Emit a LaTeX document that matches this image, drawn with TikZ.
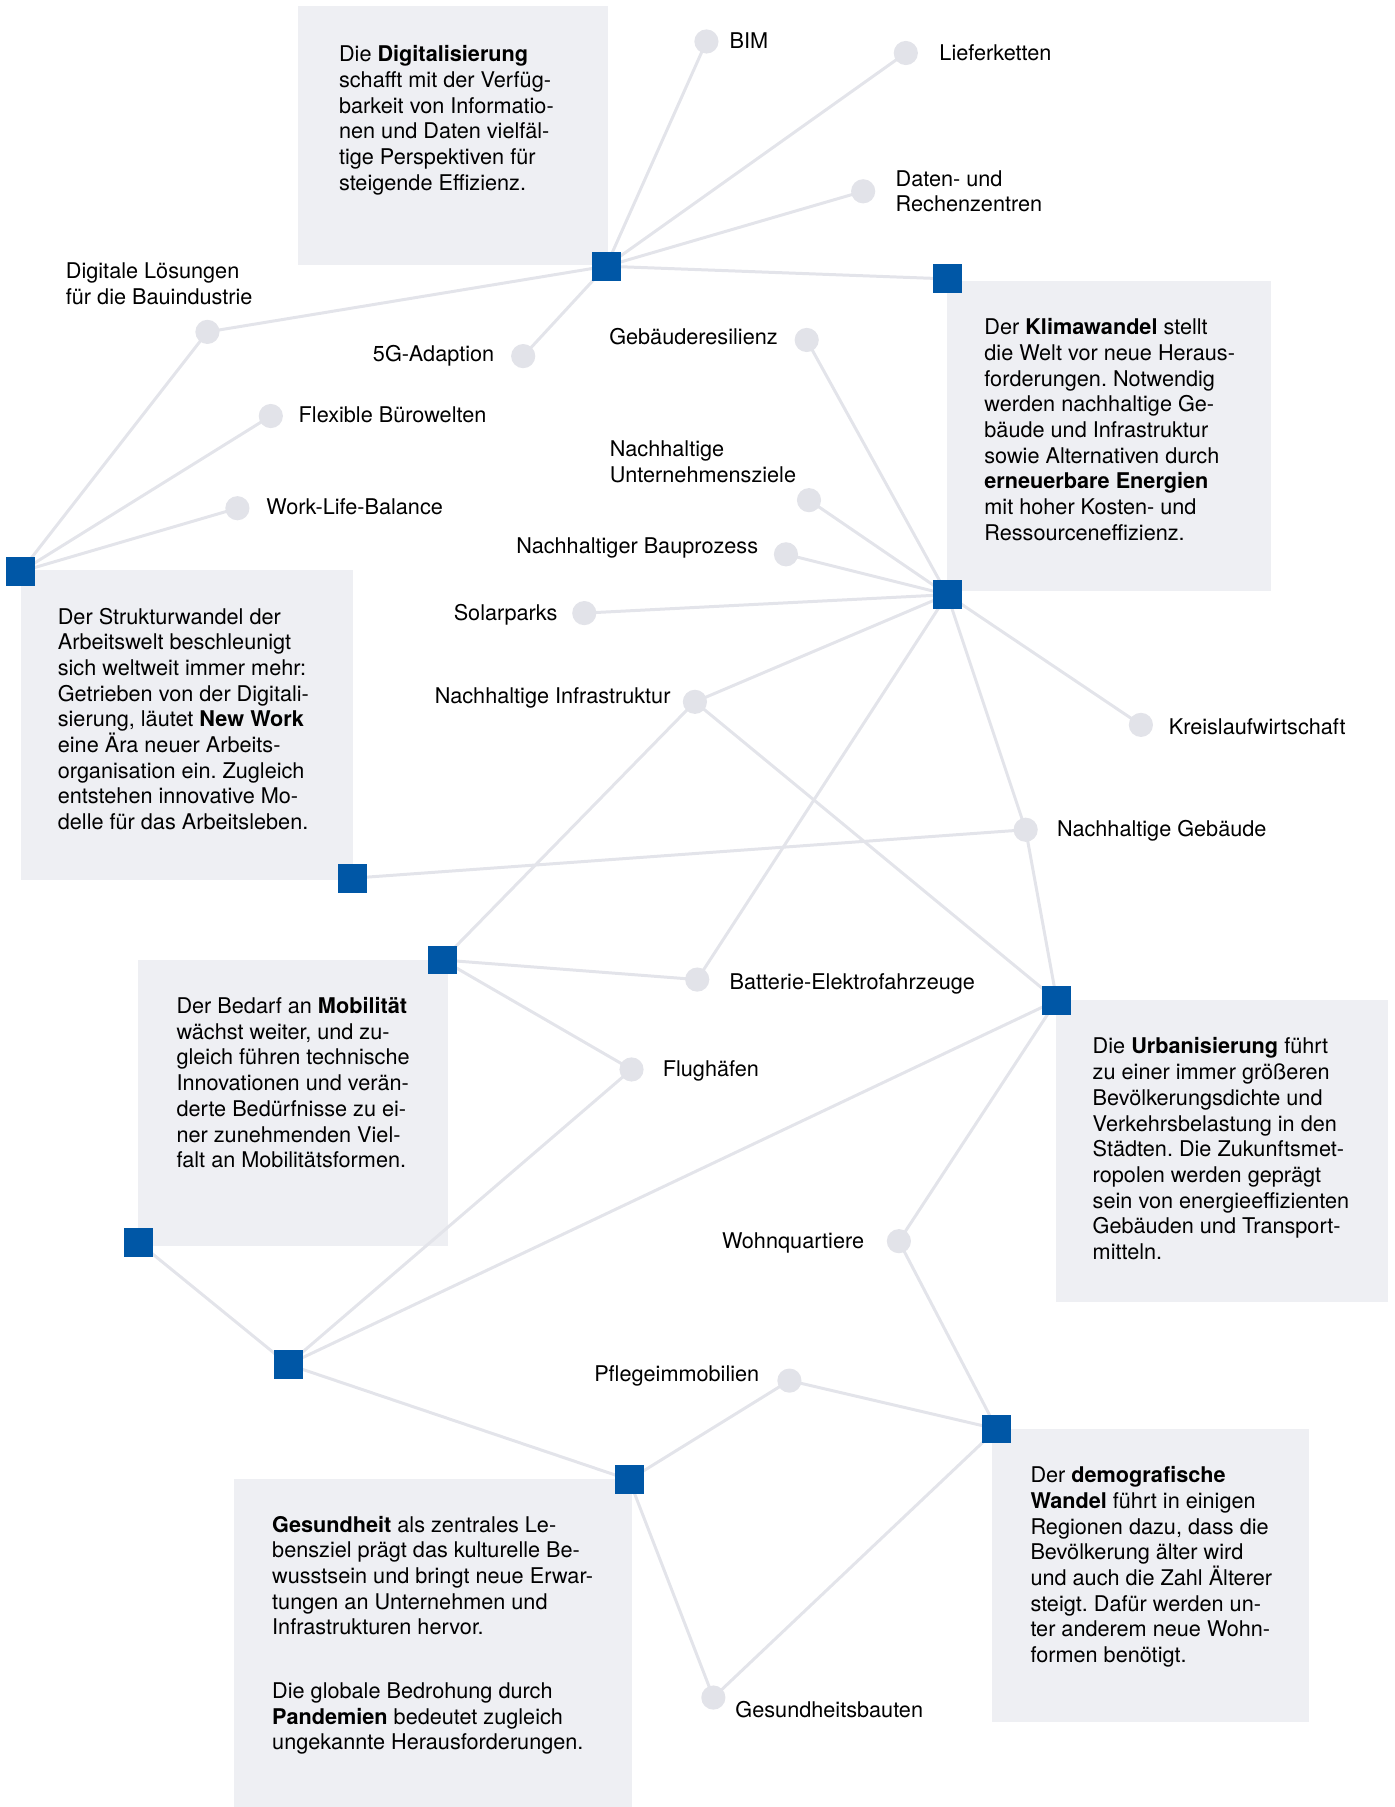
\documentclass[tikz,border=0pt]{standalone}
\usepackage{fontspec}
\setmainfont{TeX Gyre Heros}
\usetikzlibrary{backgrounds}
\frenchspacing

\definecolor{hubblue}{HTML}{0057A6}
\definecolor{boxgray}{HTML}{EEEFF3}
\definecolor{linegray}{HTML}{E3E4EA}
\definecolor{dotgray}{HTML}{E2E3E9}

\pgfdeclarelayer{boxes}
\pgfsetlayers{boxes,background,main}

\tikzset{
    hub/.style={rectangle, fill=hubblue, minimum size=25pt, inner sep=0pt},
    dot/.style={circle, fill=dotgray, minimum size=21pt, inner sep=0pt},
    link/.style={linegray, line width=2.6pt},
    % multi-line text: placed at the baseline of its last line
    txt/.style={anchor=base west, align=left, inner sep=0pt, font=\fontsize{18.8}{22.3}\selectfont},
    lbl/.style={inner sep=0pt, font=\fontsize{18.8}{22.3}\selectfont},
}

\begin{document}
\begin{tikzpicture}[x=1pt, y=-1pt]
    \useasboundingbox (0,0) rectangle (1210,1568);

    % text boxes
    \begin{pgfonlayer}{boxes}
        \fill[boxgray] (259,5) rectangle (528,230);
        \fill[boxgray] (822,244) rectangle (1103,513);
        \fill[boxgray] (18,495) rectangle (306,764);
        \fill[boxgray] (120,833) rectangle (389,1081);
        \fill[boxgray] (916,868) rectangle (1204,1130);
        \fill[boxgray] (203,1283) rectangle (548,1568);
        \fill[boxgray] (861,1240) rectangle (1136,1494);
    \end{pgfonlayer}

    % Digitalisierung
    \node[txt] (digtext) at (294,165) {Die \textbf{Digitalisierung}\\ schafft mit der Verfüg-\\ barkeit von Informatio-\\ nen und Daten vielfäl-\\ tige Perspektiven für\\ steigende Effizienz.};
    \node[hub] (dig) at (526,231) {};

    % Klimawandel
    \node[txt] (klimatext) at (854,468.9) {Der \textbf{Klimawandel} stellt\\ die Welt vor neue Heraus-\\ forderungen. Notwendig\\ werden nachhaltige Ge-\\ bäude und Infrastruktur\\ sowie Alternativen durch\\ \textbf{erneuerbare Energien}\\ mit hoher Kosten- und\\ Ressourceneffizienz.};
    \node[hub] (klimatop) at (822,242) {};
    \node[hub] (klima) at (822,516) {};

    % Strukturwandel
    \node[txt] (worktext) at (50,719.9) {Der Strukturwandel der\\ Arbeitswelt beschleunigt\\ sich weltweit immer mehr:\\ Getrieben von der Digitali-\\ sierung, läutet \textbf{New Work}\\ eine Ära neuer Arbeits-\\ organisation ein. Zugleich\\ entstehen innovative Mo-\\ delle für das Arbeitsleben.};
    \node[hub] (work) at (18,496) {};
    \node[hub] (workbot) at (306,762) {};

    % Mobilitaet
    \node[txt] (mobtext) at (153,1013.3) {Der Bedarf an \textbf{Mobilität}\\ wächst weiter, und zu-\\ gleich führen technische\\ Innovationen und verän-\\ derte Bedürfnisse zu ei-\\ ner zunehmenden Viel-\\ falt an Mobilitätsformen.};
    \node[hub] (mob) at (384,833) {};
    \node[hub] (mobbot) at (120,1078) {};
    \node[hub] (mobhub) at (250,1184) {};

    % Urbanisierung
    \node[txt] (urbtext) at (948,1092.9) {Die \textbf{Urbanisierung} führt\\ zu einer immer größeren\\ Bevölkerungsdichte und\\ Verkehrsbelastung in den\\ Städten. Die Zukunftsmet-\\ ropolen werden geprägt\\ sein von energieeffizienten\\ Gebäuden und Transport-\\ mitteln.};
    \node[hub] (urb) at (917,868) {};

    % Gesundheit
    \node[txt] (healthtext) at (236,1518.3) {\textbf{Gesundheit} als zentrales Le-\\ bensziel prägt das kulturelle Be-\\ wusstsein und bringt neue Erwar-\\ tungen an Unternehmen und\\ Infrastrukturen hervor.\\[32.7pt] Die globale Bedrohung durch\\ \textbf{Pandemien} bedeutet zugleich\\ ungekannte Herausforderungen.};
    \node[hub] (health) at (546,1284) {};

    % demografischer Wandel
    \node[txt] (demotext) at (894,1442.6) {Der \textbf{demografische}\\ \textbf{Wandel} führt in einigen\\ Regionen dazu, dass die\\ Bevölkerung älter wird\\ und auch die Zahl Älterer\\ steigt. Dafür werden un-\\ ter anderem neue Wohn-\\ formen benötigt.};
    \node[hub] (demo) at (865,1240) {};

    % topics
    \node[dot] (bim) at (613,36) {};
    \node[lbl, anchor=base west] (bimlbl) at (633,42.5) {BIM};
    \node[dot] (liefer) at (786,46) {};
    \node[lbl, anchor=base west] (lieferlbl) at (815,52.5) {Lieferketten};
    \node[dot] (daten) at (749,166) {};
    \node[txt] (datenlbl) at (777,183.8) {Daten- und\\ Rechenzentren};
    \node[dot] (loesung) at (180,288) {};
    \node[txt] (loesunglbl) at (57,263.8) {Digitale Lösungen\\ für die Bauindustrie};
    \node[dot] (fuenfg) at (454,309) {};
    \node[lbl, anchor=base east] (fuenfglbl) at (429,313.5) {5G-Adaption};
    \node[dot] (buero) at (235,361) {};
    \node[lbl, anchor=base west] (buerolbl) at (259,366.5) {Flexible Bürowelten};
    \node[dot] (balance) at (206,441) {};
    \node[lbl, anchor=base west] (balancelbl) at (231,446.5) {Work-Life-Balance};
    \node[dot] (resilienz) at (700,295) {};
    \node[lbl, anchor=base east] (resilienzlbl) at (675,298.5) {Gebäuderesilienz};
    \node[dot] (ziele) at (702,434) {};
    \node[txt] (zielelbl) at (529,418.8) {Nachhaltige\\ Unternehmensziele};
    \node[dot] (bauprozess) at (682,481) {};
    \node[lbl, anchor=base east] (bauprozesslbl) at (658,480.5) {Nachhaltiger Bauprozess};
    \node[dot] (solar) at (507,532) {};
    \node[lbl, anchor=base east] (solarlbl) at (484,538.5) {Solarparks};
    \node[dot] (infra) at (603,609) {};
    \node[lbl, anchor=base east] (infralbl) at (582,610.5) {Nachhaltige Infrastruktur};
    \node[dot] (kreislauf) at (990,629) {};
    \node[lbl, anchor=base west] (kreislauflbl) at (1014,637.5) {Kreislaufwirtschaft};
    \node[dot] (gebaeude) at (890,720) {};
    \node[lbl, anchor=base west] (gebaeudelbl) at (917,725.5) {Nachhaltige Gebäude};
    \node[dot] (batterie) at (605,850) {};
    \node[lbl, anchor=base west] (batterielbl) at (633,858.5) {Batterie-Elektrofahrzeuge};
    \node[dot] (flug) at (548,928) {};
    \node[lbl, anchor=base west] (fluglbl) at (575,934.5) {Flughäfen};
    \node[dot] (wohn) at (780,1077) {};
    \node[lbl, anchor=base east] (wohnlbl) at (750,1083.5) {Wohnquartiere};
    \node[dot] (pflege) at (685,1198) {};
    \node[lbl, anchor=base east] (pflegelbl) at (659,1198.5) {Pflegeimmobilien};
    \node[dot] (gbauten) at (619,1473) {};
    \node[lbl, anchor=base west] (gbautenlbl) at (638,1490.5) {Gesundheitsbauten};

    % connections
    \begin{pgfonlayer}{background}
        \foreach \a/\b in {dig/bim, dig/liefer, dig/daten, dig/loesung, dig/fuenfg, dig/klimatop,
                loesung/work, work/buero, work/balance, workbot/gebaeude,
                resilienz/klima, ziele/klima, bauprozess/klima, solar/klima, infra/klima,
                klima/kreislauf, klima/gebaeude, klima/batterie,
                infra/mob, infra/urb, gebaeude/urb, mob/batterie, mob/flug,
                flug/mobhub, mobbot/mobhub, mobhub/urb, mobhub/health,
                urb/wohn, wohn/demo, health/pflege, pflege/demo, health/gbauten, gbauten/demo}
            \draw[link] (\a.center) -- (\b.center);
    \end{pgfonlayer}
\end{tikzpicture}
\end{document}
